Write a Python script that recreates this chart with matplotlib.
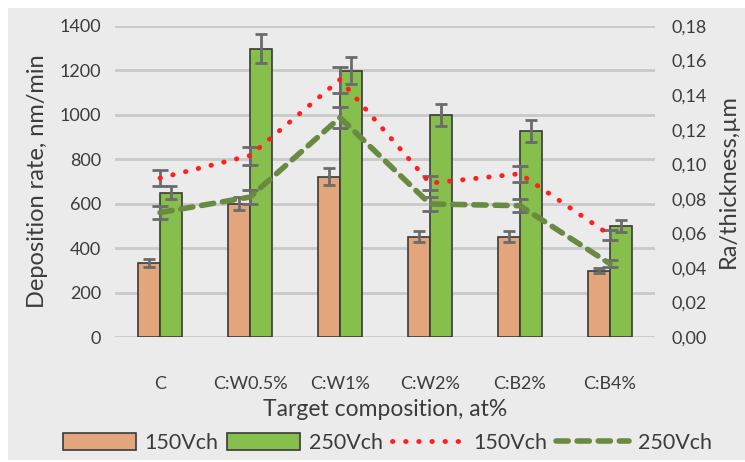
import numpy as np
import matplotlib
matplotlib.use('Agg')
import matplotlib.pyplot as plt
from matplotlib.patches import Rectangle
from matplotlib.ticker import FuncFormatter

plt.rcParams['font.family'] = ['Lato', 'DejaVu Sans']

categories = ['C', 'C:W0.5%', 'C:W1%', 'C:W2%', 'C:B2%', 'C:B4%']

# deposition rate (bars, left axis)
rate_150 = [334, 600, 722, 451, 451, 298]
rate_150_err = [17, 30, 37, 25, 25, 12]
rate_250 = [650, 1298, 1199, 999, 927, 500]
rate_250_err = [31, 65, 61, 50, 49, 26]

# Ra/thickness (lines, right axis)
ra_150 = [0.092, 0.105, 0.149, 0.089, 0.0945, 0.059]
ra_150_err = [0.0046, 0.0052, 0.0075, 0.004, 0.0046, 0.003]
ra_250 = [0.072, 0.081, 0.127, 0.077, 0.076, 0.0424]
ra_250_err = [0.0038, 0.004, 0.006, 0.004, 0.0038, 0.002]

c_tan = '#E2A57C'
c_green = '#86BF4C'
c_edge = '#3A3A3A'
c_err = '#6B6B6B'
c_red = '#FF1F1F'
c_dash = '#6A8A42'
c_text = '#3C3C3C'
c_grid = '#C9C9C9'

fig = plt.figure(figsize=(7.45, 4.62), dpi=100)
fig.patch.set_facecolor('white')
fig.patches.append(Rectangle((8/745, 2/462), 737/745, 452/462, transform=fig.transFigure,
                             facecolor='#EBEBEB', edgecolor='none', zorder=-10))

ax = fig.add_axes([115/745, 1-337/462, 540/745, 311/462])
ax.set_facecolor('none')
x = np.arange(len(categories))
w = 0.24

ax.bar(x - w/2, rate_150, w, color=c_tan, edgecolor=c_edge, linewidth=1.2, zorder=3)
ax.bar(x + w/2, rate_250, w, color=c_green, edgecolor=c_edge, linewidth=1.2, zorder=3)
ax.errorbar(x - w/2, rate_150, yerr=rate_150_err, fmt='none', ecolor=c_err, elinewidth=2,
            capsize=4, capthick=2, zorder=4)
ax.errorbar(x + w/2, rate_250, yerr=rate_250_err, fmt='none', ecolor=c_err, elinewidth=2,
            capsize=4, capthick=2, zorder=4)

ax.set_xlim(-0.5, len(categories) - 0.5)
ax.set_ylim(0, 1400)
ax.set_yticks(np.arange(0, 1401, 200))
ax.yaxis.grid(True, color=c_grid, linewidth=2)
ax.set_axisbelow(True)
for s in ax.spines.values():
    s.set_visible(False)
ax.tick_params(length=0, labelsize=13, colors=c_text, pad=10)
ax.tick_params(axis='x', pad=28)
ax.set_xticks(x)
ax.set_xticklabels(categories)
ax.set_ylabel('Deposition rate, nm/min', fontsize=17, color=c_text, labelpad=8)
ax.set_xlabel('Target composition, at%', fontsize=16.5, color=c_text, labelpad=5)

ax2 = ax.twinx()
ax2.set_ylim(0, 0.18)
ax2.set_yticks(np.arange(0, 0.181, 0.02))
ax2.yaxis.set_major_formatter(FuncFormatter(lambda v, p: ('%.2f' % v).replace('.', ',')))
for s in ax2.spines.values():
    s.set_visible(False)
ax2.tick_params(length=0, labelsize=13, colors=c_text, pad=12)
ax2.set_ylabel('Ra/thickness,µm', fontsize=17, color=c_text, labelpad=8)

ax2.errorbar(x, ra_150, yerr=ra_150_err, fmt='none', ecolor=c_err, elinewidth=2,
             capsize=6, capthick=2, zorder=5)
ax2.errorbar(x, ra_250, yerr=ra_250_err, fmt='none', ecolor=c_err, elinewidth=2,
             capsize=6, capthick=2, zorder=5)
l1, = ax2.plot(x, ra_150, color=c_red, linestyle=(0, (0.1, 2.6)), linewidth=3.5,
               dash_capstyle='round', zorder=6)
l2, = ax2.plot(x, ra_250, color=c_dash, linestyle=(0, (2.2, 1.6)), linewidth=4,
               dash_capstyle='round', zorder=6)

h1 = Rectangle((0, 0), 1, 1, facecolor=c_tan, edgecolor=c_edge, linewidth=1.2)
h2 = Rectangle((0, 0), 1, 1, facecolor=c_green, edgecolor=c_edge, linewidth=1.2)
leg = fig.legend([h1, h2, l1, l2], ['150Vch', '250Vch', '150Vch', '250Vch'],
                 loc='center', bbox_to_anchor=(0.52, 1-443/462), ncol=4, frameon=False,
                 fontsize=15.5, handlelength=3.4, handleheight=0.8, handletextpad=0.4,
                 columnspacing=0.4, labelcolor=c_text)

fig.savefig('out.png', dpi=100, facecolor=fig.get_facecolor())
